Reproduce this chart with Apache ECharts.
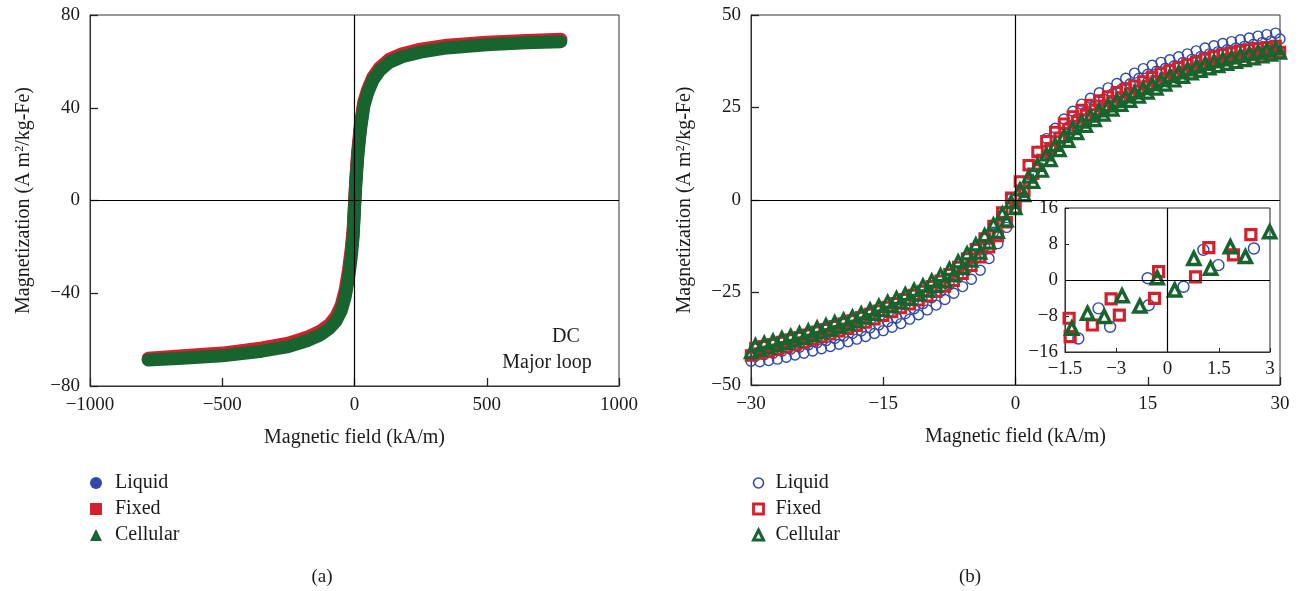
<!DOCTYPE html>
<html>
<head>
<meta charset="UTF-8">
<title>Magnetization curves</title>
<script src="https://cdn.jsdelivr.net/npm/echarts@6/dist/echarts.min.js"></script>
<style>html,body{margin:0;padding:0;background:#fff;}</style>
</head>
<body>
<div id="main" style="width:1300px;height:591px;"></div>
<script>
// (a) DC major loop, read along the centre of the thick band
const leftH        = [-780, -650, -500, -350, -250, -180, -130, -95, -70, -50, -35, -22, -12, -5, 0, 5, 12, 22, 35, 50, 70, 95, 130, 180, 250, 350, 500, 650, 780];
const leftLiquid   = [-68.5, -67.6, -66.5, -64.4, -62.3, -59.8, -57.3, -54.4, -51.0, -46.3, -40.0, -31.3, -22.3, -13.8, -2.5, 8.3, 19.7, 31.2, 41.5, 47.2, 52.7, 56.7, 60.1, 62.6, 64.6, 66.4, 67.7, 68.5, 69.0];
const leftFixed    = [-68.0, -67.0, -65.8, -63.6, -61.5, -59.0, -56.4, -53.5, -50.0, -45.0, -38.5, -29.5, -20.5, -12.0, -1.0, 9.5, 21.0, 32.5, 42.5, 48.0, 53.3, 57.3, 60.8, 63.3, 65.3, 67.0, 68.3, 69.0, 69.5];
const leftCellular = [-68.8, -68.0, -67.0, -65.0, -63.0, -60.5, -58.0, -55.2, -52.0, -47.5, -41.5, -33.0, -24.0, -15.5, -4.0, 7.0, 18.5, 30.0, 40.5, 46.5, 52.0, 56.0, 59.5, 62.0, 64.0, 65.8, 67.2, 68.0, 68.5];

// (b) minor loop, two branches per sample
const hLow  = [-30, -29, -28, -27, -26, -25, -24, -23, -22, -21, -20, -19, -18, -17, -16, -15, -14, -13, -12, -11, -10, -9, -8, -7, -6, -5, -4, -3, -2, -1, 0,
               1, 2, 3, 4, 5, 6, 7, 8, 9, 10, 11, 12, 13, 14, 15, 16, 17, 18, 19, 20, 21, 22, 23, 24, 25, 26, 27, 28, 29, 30];
const hHigh = [-29.5, -28.5, -27.5, -26.5, -25.5, -24.5, -23.5, -22.5, -21.5, -20.5, -19.5, -18.5, -17.5, -16.5, -15.5, -14.5, -13.5, -12.5, -11.5, -10.5,
               -9.5, -8.5, -7.5, -6.5, -5.5, -4.5, -3.5, -2.5, -1.5, -0.5, 0.5, 1.5, 2.5, 3.5, 4.5, 5.5, 6.5, 7.5, 8.5, 9.5,
               10.5, 11.5, 12.5, 13.5, 14.5, 15.5, 16.5, 17.5, 18.5, 19.5, 20.5, 21.5, 22.5, 23.5, 24.5, 25.5, 26.5, 27.5, 28.5, 29.5];
const liquidLow  = [-43.6, -43.7, -43.4, -43.0, -42.5, -41.9, -41.4, -40.8, -40.2, -39.6, -39.0, -38.3, -37.6, -36.9, -36.1, -35.3, -34.4, -33.4, -32.2, -31.0,
                    -29.7, -28.4, -26.9, -25.2, -23.4, -21.4, -19.0, -15.8, -11.8, -7.4, -2.6, 2.0, 6.4, 10.3, 13.8, 17.0, 19.8, 22.0, 24.0, 25.6,
                    27.3, 28.7, 29.9, 31.4, 32.9, 34.0, 34.8, 35.6, 36.3, 37.2, 38.0, 38.8, 39.5, 40.1, 40.6, 41.1, 41.6, 42.1, 42.6, 43.0, 43.5];
const liquidHigh = [-42.2, -41.8, -41.4, -40.9, -40.3, -39.8, -39.2, -38.6, -38.0, -37.4, -36.8, -36.1, -35.4, -34.6, -33.8, -32.9, -31.9, -30.7, -29.4, -28.0,
                    -26.4, -24.7, -22.9, -20.9, -18.6, -15.8, -12.5, -8.7, -4.4, 0.4, 5.0, 9.4, 13.2, 16.6, 19.4, 21.9, 24.0, 25.9, 27.5, 29.0,
                    30.3, 31.5, 32.9, 34.3, 35.5, 36.4, 37.2, 37.9, 38.7, 39.5, 40.3, 41.1, 41.7, 42.3, 42.8, 43.3, 43.8, 44.3, 44.7, 45.1];
const fixedLow   = [-42.0, -41.5, -41.0, -40.5, -39.8, -39.2, -38.5, -37.8, -37.0, -36.3, -35.5, -34.8, -34.0, -33.1, -32.2, -31.3, -30.3, -29.2, -28.2, -27.1,
                    -26.0, -24.8, -23.4, -21.8, -19.9, -17.8, -15.5, -12.8, -9.7, -6.0, -2.2, 2.5, 7.1, 10.8, 14.0, 16.8, 19.2, 21.3, 23.0, 24.3,
                    25.5, 26.7, 27.7, 28.7, 29.6, 30.8, 32.0, 32.8, 33.6, 34.4, 35.1, 35.9, 36.7, 37.3, 37.8, 38.3, 38.8, 39.2, 39.5, 39.8, 40.0];
const fixedHigh  = [-40.0, -39.5, -39.0, -38.4, -37.7, -37.1, -36.4, -35.6, -34.9, -34.1, -33.4, -32.6, -31.7, -30.8, -29.9, -28.9, -27.9, -26.8, -25.7, -24.6,
                    -23.3, -21.8, -20.1, -18.1, -15.8, -13.3, -10.4, -7.0, -3.4, 0.6, 5.0, 9.4, 13.0, 15.9, 18.4, 20.6, 22.6, 24.3, 25.7, 26.9,
                    28.0, 29.1, 30.0, 30.9, 32.0, 33.2, 34.2, 35.0, 35.8, 36.6, 37.3, 38.1, 38.8, 39.3, 39.8, 40.3, 40.7, 41.0, 41.3, 41.6];
const cellLow    = [-41.1, -40.5, -39.9, -39.3, -38.6, -38.0, -37.3, -36.6, -35.8, -35.1, -34.3, -33.6, -32.8, -31.8, -30.8, -29.8, -28.7, -27.7, -26.7, -25.6,
                    -24.5, -23.3, -22.0, -20.3, -18.4, -16.4, -14.2, -11.5, -8.6, -5.5, -2.2, 1.3, 4.9, 7.9, 10.8, 13.5, 16.0, 18.1, 20.0, 21.6,
                    23.1, 24.4, 25.7, 26.8, 27.9, 29.0, 30.1, 31.2, 32.3, 33.3, 34.2, 34.9, 35.6, 36.2, 36.8, 37.3, 37.8, 38.3, 38.8, 39.3, 39.8];
const cellHigh   = [-39.2, -38.6, -38.0, -37.3, -36.7, -36.0, -35.3, -34.5, -33.8, -33.0, -32.3, -31.5, -30.6, -29.6, -28.6, -27.5, -26.5, -25.4, -24.3, -23.1,
                    -21.8, -20.3, -18.6, -16.6, -14.4, -12.0, -9.5, -6.6, -3.6, -0.5, 2.9, 6.3, 9.5, 12.3, 14.9, 17.3, 19.4, 21.2, 22.8, 24.2,
                    25.6, 26.8, 28.0, 29.1, 30.2, 31.3, 32.4, 33.5, 34.5, 35.4, 36.1, 36.8, 37.5, 38.1, 38.6, 39.1, 39.6, 40.1, 40.6, 41.1];

// inset: close-up around the origin
const insetLiquid   = [[-2.61, -13], [-2.02, -6.3], [-1.68, -10.4], [-0.58, 0.4], [-0.55, -5.6], [0.47, -1.5], [1.05, 6.7], [1.49, 3.3], [2.53, 7.0]];
const insetFixed    = [[-2.88, -8.5], [-2.85, -12.6], [-2.2, -10], [-1.65, -4.2], [-1.41, -7.8], [-0.38, -4.1], [-0.26, 1.85], [0.82, 0.7], [1.21, 7.2], [1.93, 5.6], [2.44, 10.1]];
const insetCellular = [[-2.8, -10.7], [-2.34, -7.4], [-1.85, -8.1], [-1.33, -3.5], [-0.81, -5.8], [-0.3, 0.5], [0.21, -2.2], [0.77, 4.8], [1.26, 2.6], [1.84, 7.4], [2.28, 5.2], [2.99, 10.7]];
const insetXTicks  = [-3, -1.5, 0, 1.5, 3];
const insetXLabels = ['\u22121.5', '\u22123', '0', '1.5', '3'];

const BLUE = '#2f4aa6', RED = '#d4202c', GREEN = '#17642f';
const FONT = "'Liberation Serif', 'DejaVu Serif', serif";

function zip(xs, ys) {
  const out = [];
  for (let i = 0; i < Math.min(xs.length, ys.length); i++) out.push([xs[i], ys[i]]);
  return out;
}
const minus = v => String(v).replace('-', '\u2212');

function valueAxis(gridIndex, min, max, interval, extra) {
  return Object.assign({
    type: 'value', gridIndex, min, max, interval,
    axisLine: { onZero: false, lineStyle: { color: '#333', width: 1 } },
    axisTick: { inside: true, length: 8, lineStyle: { color: '#222', width: 1.3 } },
    axisLabel: { fontFamily: FONT, fontSize: 19, color: '#1a1a1a', margin: 10, formatter: minus },
    splitLine: { show: false },
    nameTextStyle: { fontFamily: FONT, fontSize: 20, color: '#1a1a1a',
      rich: { sup: { fontFamily: FONT, fontSize: 12, verticalAlign: 'top', lineHeight: 12 } } }
  }, extra || {});
}
const yName = 'Magnetization (A m{sup|2}/kg-Fe)';
const xName = 'Magnetic field (kA/m)';

function zeroLines(xi, yi) {
  return {
    type: 'line', name: '', xAxisIndex: xi, yAxisIndex: yi, data: [], silent: true,
    markLine: { silent: true, symbol: 'none', label: { show: false }, z: 6,
      lineStyle: { color: '#000', width: 1.2, type: 'solid' },
      data: [{ xAxis: 0 }, { yAxis: 0 }] }
  };
}
function band(name, data, color) {
  return { name, type: 'line', xAxisIndex: 0, yAxisIndex: 0, data, symbol: 'none', showSymbol: false,
    lineStyle: { color, width: 13, cap: 'round', join: 'round' }, itemStyle: { color } };
}
function dots(name, data, xi, symbol, size, color, bw) {
  return { name, type: 'scatter', xAxisIndex: xi, yAxisIndex: xi, data, symbol, symbolSize: size, clip: false,
    itemStyle: { color: 'rgba(255,255,255,0)', borderColor: color, borderWidth: bw, opacity: 1 } };
}
const legendText = { fontFamily: FONT, fontSize: 20, color: '#1a1a1a', lineHeight: 20, padding: [0, 0, 0, 8] };

const chart = echarts.init(document.getElementById('main'));
chart.setOption({
  animation: false,
  backgroundColor: '#fff',
  grid: [
    { left: 90, top: 15, width: 529, height: 371, show: true, borderColor: '#333', borderWidth: 1 },
    { left: 751, top: 15, width: 529, height: 370, show: true, borderColor: '#333', borderWidth: 1 },
    { left: 1065, top: 208, width: 205, height: 144, show: true, backgroundColor: '#fff', borderColor: '#222', borderWidth: 1 }
  ],
  xAxis: [
    valueAxis(0, -1000, 1000, 500, { name: xName, nameLocation: 'middle', nameGap: 42 }),
    valueAxis(1, -30, 30, 15, { name: xName, nameLocation: 'middle', nameGap: 42 }),
    valueAxis(2, -3, 3, 1.5, {
      axisTick: { inside: true, length: 4, lineStyle: { color: '#222' } },
      axisLabel: { fontFamily: FONT, fontSize: 19, color: '#1a1a1a', margin: 8,
        formatter: v => { const i = insetXTicks.findIndex(t => Math.abs(t - v) < 1e-6); return i < 0 ? '' : insetXLabels[i]; } }
    })
  ],
  yAxis: [
    valueAxis(0, -80, 80, 40, { name: yName, nameLocation: 'middle', nameGap: 56 }),
    valueAxis(1, -50, 50, 25, { name: yName, nameLocation: 'middle', nameGap: 56 }),
    valueAxis(2, -16, 16, 8, {
      axisTick: { inside: true, length: 4, lineStyle: { color: '#222' } },
      axisLabel: { fontFamily: FONT, fontSize: 19, color: '#1a1a1a', margin: 7, formatter: minus }
    })
  ],
  legend: [
    { orient: 'vertical', left: 90, top: 473, padding: 0, itemGap: 6, itemWidth: 12, itemHeight: 12,
      selectedMode: false, textStyle: legendText,
      data: [
        { name: 'Liquid', icon: 'circle', itemStyle: { color: BLUE, borderWidth: 0 } },
        { name: 'Fixed', icon: 'rect', itemStyle: { color: RED, borderWidth: 0 } },
        { name: 'Cellular', icon: 'triangle', itemStyle: { color: GREEN, borderWidth: 0 } }
      ] },
    { orient: 'vertical', left: 752, top: 473, padding: 0, itemGap: 6, itemWidth: 10, itemHeight: 10,
      selectedMode: false, textStyle: Object.assign({}, legendText, { padding: [0, 0, 0, 7] }),
      data: [
        { name: 'Liquid', icon: 'circle', itemStyle: { color: '#fff', borderColor: BLUE, borderWidth: 1.6 } },
        { name: 'Fixed', icon: 'rect', itemStyle: { color: '#fff', borderColor: RED, borderWidth: 2.8 } },
        { name: 'Cellular', icon: 'triangle', itemStyle: { color: '#fff', borderColor: GREEN, borderWidth: 3 } }
      ] }
  ],
  graphic: [
    { type: 'text', x: 566, y: 337, style: { text: 'DC', font: '20px ' + FONT, fill: '#1a1a1a', textAlign: 'center', textVerticalAlign: 'middle' } },
    { type: 'text', x: 547, y: 363, style: { text: 'Major loop', font: '20px ' + FONT, fill: '#1a1a1a', textAlign: 'center', textVerticalAlign: 'middle' } },
    { type: 'text', x: 322, y: 577, style: { text: '(a)', font: '19px ' + FONT, fill: '#1a1a1a', textAlign: 'center', textVerticalAlign: 'middle' } },
    { type: 'text', x: 970, y: 577, style: { text: '(b)', font: '19px ' + FONT, fill: '#1a1a1a', textAlign: 'center', textVerticalAlign: 'middle' } }
  ],
  series: [
    band('Liquid', zip(leftH, leftLiquid), BLUE),
    band('Fixed', zip(leftH, leftFixed), RED),
    band('Cellular', zip(leftH, leftCellular), GREEN),
    zeroLines(0, 0),

    dots('Liquid', zip(hLow, liquidLow).concat(zip(hHigh, liquidHigh)), 1, 'circle', 10, BLUE, 1.4),
    dots('Fixed', zip(hLow, fixedLow).concat(zip(hHigh, fixedHigh)), 1, 'rect', 9.5, RED, 3),
    dots('Cellular', zip(hLow, cellLow).concat(zip(hHigh, cellHigh)), 1, 'triangle', 11, GREEN, 3.2),
    zeroLines(1, 1),

    dots('Liquid', insetLiquid, 2, 'circle', 11, BLUE, 1.4),
    dots('Fixed', insetFixed, 2, 'rect', 10, RED, 3.2),
    dots('Cellular', insetCellular, 2, 'triangle', 12, GREEN, 3.5),
    zeroLines(2, 2)
  ]
});
</script>
</body>
</html>
